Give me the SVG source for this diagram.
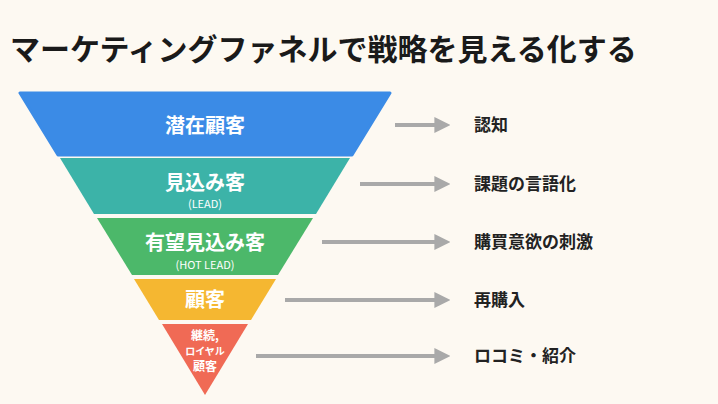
<svg xmlns="http://www.w3.org/2000/svg" width="718" height="404" viewBox="0 0 718 404">
<style>
text{font-family:"Noto Sans CJK JP","Noto Sans",sans-serif;font-weight:bold}
.in{fill:#fff;text-anchor:middle}
.big{font-size:20px}
.sm{font-size:11px;font-weight:normal}
.lbl{font-size:17px;fill:#222}
.ar{stroke:#a9a9a9;stroke-width:4;fill:none;marker-end:url(#ah)}
</style>
<defs><marker id="ah" viewBox="0 0 10 10" refX="6" refY="5" markerWidth="4" markerHeight="4" orient="auto" markerUnits="strokeWidth"><path d="M0,0 L10,5 L0,10 z" fill="#a9a9a9"/></marker></defs>
<rect width="718" height="404" fill="#fdf9f2"/>
<text x="10" y="60" font-size="30" fill="#1a1a1a">マーケティングファネルで戦略を見える化する</text>
<g id="n1"><path d="M20,93 L390,93 L352,155 L58,155 Z" fill="#3b8be6" stroke="#3b8be6" stroke-linejoin="round" stroke-width="3"/><text class="in big" x="205" y="133">潜在顧客</text></g>
<g id="n2"><path d="M60,158 L350,158 L316,214 L94,214 Z" fill="#3cb3a8"/><text class="in big" x="205" y="190">見込み客</text><text class="in sm" x="205" y="208">(LEAD)</text></g>
<g id="n3"><path d="M97,218 L313,218 L278,275 L132,275 Z" fill="#4cb86a"/><text class="in big" x="205" y="250">有望見込み客</text><text class="in sm" x="205" y="269">(HOT LEAD)</text></g>
<g id="n4"><path d="M134,279 L276,279 L251,320 L159,320 Z" fill="#f5b731"/><text class="in big" x="205" y="307">顧客</text></g>
<g id="n5"><path d="M162,324 L248,324 L205,395 Z" fill="#f06a55"/><text class="in" font-size="12" x="205" y="340">継続,</text><text class="in" font-size="10" x="205" y="355">ロイヤル</text><text class="in" font-size="12" x="205" y="371">顧客</text></g>
<g id="connectors">
<line class="ar" x1="395" y1="125" x2="444" y2="125"/>
<line class="ar" x1="360" y1="184" x2="444" y2="184"/>
<line class="ar" x1="322" y1="242" x2="444" y2="242"/>
<line class="ar" x1="285" y1="300" x2="444" y2="300"/>
<line class="ar" x1="256" y1="356" x2="444" y2="356"/>
</g>
<text class="lbl" x="474" y="131">認知</text>
<text class="lbl" x="474" y="190">課題の言語化</text>
<text class="lbl" x="474" y="248">購買意欲の刺激</text>
<text class="lbl" x="474" y="306">再購入</text>
<text class="lbl" x="474" y="362">ロコミ・紹介</text>
</svg>
